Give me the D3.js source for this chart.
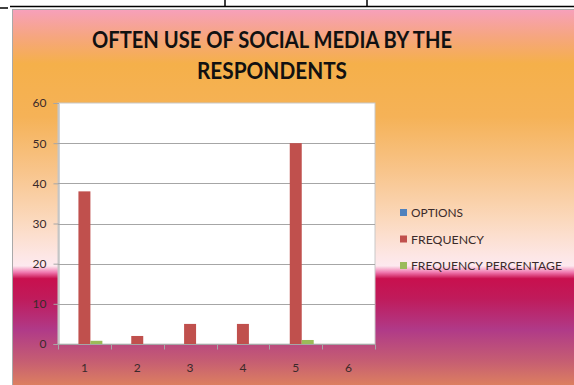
<!DOCTYPE html>
<html>
<head>
<meta charset="utf-8">
<script src="https://cdn.jsdelivr.net/npm/d3@7"></script>
<style>
  body { margin: 0; background: #fff; }
  svg { display: block; }
  text { font-family: Lato, "Open Sans", sans-serif; }
</style>
</head>
<body>
<svg id="chart" width="574" height="385"></svg>
<script>
// data
const categories = ["1", "2", "3", "4", "5", "6"];
const seriesNames = ["OPTIONS", "FREQUENCY", "FREQUENCY PERCENTAGE"];
const options = [0, 0, 0, 0, 0, 0];
const frequency = [38, 2, 5, 5, 50, 0];
const frequencyPct = [0.8, 0, 0, 0, 1, 0];
const yTicks = [0, 10, 20, 30, 40, 50, 60];
const titleLines = ["OFTEN USE OF SOCIAL MEDIA BY THE", "RESPONDENTS"];

const colors = ["#4f81bd", "#c0504d", "#9bbb59"];
const series = [options, frequency, frequencyPct];

const svg = d3.select("#chart");

// background gradient of the chart box
const defs = svg.append("defs");
const grad = defs.append("linearGradient")
    .attr("id", "bg")
    .attr("x1", 0).attr("y1", 0).attr("x2", 0).attr("y2", 1);
// offsets relative to the box (y 9 .. 385)
const stops = [
    [9, "#f7a0bb"], [35, "#f6a67e"], [60, "#f5b04a"], [110, "#f5b257"],
    [160, "#f8c48a"], [205, "#fbd8bb"], [240, "#fde6e4"], [250, "#fde9ef"],
    [256, "#f07ab0"], [262, "#c8104e"], [280, "#c01a5a"], [310, "#b03a88"],
    [340, "#c65e72"], [362, "#dc7f60"], [385, "#eea24e"]
];
stops.forEach(([y, c]) => {
    grad.append("stop").attr("offset", (y - 9) / (385 - 9)).attr("stop-color", c);
});

// table lines above the chart
svg.append("line").attr("x1", 10).attr("x2", 574).attr("y1", 6.5).attr("y2", 6.5)
    .attr("stroke", "#000").attr("stroke-width", 1.5);
svg.append("line").attr("x1", 0).attr("x2", 8).attr("y1", 8).attr("y2", 8)
    .attr("stroke", "#000").attr("stroke-width", 1.5);
[225, 367].forEach(x => {
    svg.append("line").attr("x1", x).attr("x2", x).attr("y1", 0).attr("y2", 6)
        .attr("stroke", "#000").attr("stroke-width", 1.5);
});

svg.append("rect")
    .attr("x", 12.5).attr("y", 9.5).attr("width", 580).attr("height", 400)
    .attr("fill", "url(#bg)")
    .attr("stroke", "#a9a9a9").attr("stroke-width", 1);

// title
const title = svg.append("g");
title.selectAll("text")
    .data(titleLines)
    .join("text")
    .attr("x", 272)
    .attr("y", (d, i) => 48 + i * 31)
    .attr("text-anchor", "middle")
    .attr("font-size", 22.5)
    .attr("font-weight", "bold")
    .attr("fill", "#111")
    .attr("textLength", (d, i) => i === 0 ? 360 : 150)
    .attr("lengthAdjust", "spacingAndGlyphs")
    .text(d => d);

// plot area
const plot = { left: 58, right: 375, top: 103, bottom: 344 };

const x = d3.scaleBand()
    .domain(categories)
    .range([plot.left, plot.right])
    .paddingInner(0.32)
    .paddingOuter(0.16);

const xSub = d3.scaleBand()
    .domain(d3.range(series.length))
    .range([0, x.bandwidth()]);

const y = d3.scaleLinear()
    .domain([0, 60])
    .range([plot.bottom, plot.top]);

svg.append("rect")
    .attr("x", plot.left).attr("y", plot.top)
    .attr("width", plot.right - plot.left).attr("height", plot.bottom - plot.top)
    .attr("fill", "#fff")
    .attr("stroke", "#c8c8c8");

// gridlines
svg.append("g")
    .selectAll("line")
    .data(yTicks.filter(d => d > 0 && d < 60))
    .join("line")
    .attr("x1", plot.left).attr("x2", plot.right)
    .attr("y1", d => Math.round(y(d)) + 0.5).attr("y2", d => Math.round(y(d)) + 0.5)
    .attr("stroke", "#a6a6a6");

// y axis
const yAxis = svg.append("g")
    .attr("transform", `translate(${plot.left + 0.5},0)`)
    .call(d3.axisLeft(y).tickValues(yTicks).tickSize(5).tickPadding(7));
yAxis.select(".domain").attr("stroke", "#a6a6a6");
yAxis.selectAll(".tick line").attr("stroke", "#a6a6a6");
yAxis.selectAll(".tick text")
    .attr("font-family", "Lato, sans-serif")
    .attr("font-size", 12)
    .attr("fill", "#3a2a2a");

// bars
const groups = svg.append("g")
    .selectAll("g")
    .data(series)
    .join("g")
    .attr("fill", (d, i) => colors[i]);

groups.each(function (vals, si) {
    d3.select(this).selectAll("rect")
        .data(vals.map((v, ci) => ({ v, c: categories[ci] })))
        .join("rect")
        .attr("x", d => x(d.c) + xSub(si))
        .attr("width", xSub.bandwidth())
        .attr("y", d => y(d.v))
        .attr("height", d => y(0) - y(d.v));
});

// x axis
const step = x.step();
const xAxis = svg.append("g")
    .attr("transform", `translate(0,${plot.bottom + 0.5})`);
xAxis.append("line")
    .attr("x1", plot.left).attr("x2", plot.right)
    .attr("stroke", "#a6a6a6");
xAxis.selectAll("line.tk")
    .data(d3.range(categories.length + 1))
    .join("line")
    .attr("class", "tk")
    .attr("x1", i => Math.round(plot.left + i * step) + 0.5)
    .attr("x2", i => Math.round(plot.left + i * step) + 0.5)
    .attr("y1", 0).attr("y2", 5)
    .attr("stroke", "#a6a6a6");
xAxis.selectAll("text")
    .data(categories)
    .join("text")
    .attr("x", d => x(d) + x.bandwidth() / 2)
    .attr("y", 27)
    .attr("text-anchor", "middle")
    .attr("font-size", 12)
    .attr("fill", "#3a2a2a")
    .text(d => d);

// legend
const legend = svg.append("g")
    .selectAll("g")
    .data(seriesNames)
    .join("g")
    .attr("transform", (d, i) => `translate(400,${213 + i * 26.5})`);
legend.append("rect")
    .attr("x", 0).attr("y", -4)
    .attr("width", 7).attr("height", 7)
    .attr("fill", (d, i) => colors[i]);
legend.append("text")
    .attr("x", 11).attr("y", 4)
    .attr("font-size", 11.5)
    .attr("fill", "#3a2a2a")
    .attr("textLength", (d, i) => [52, 73, 151][i])
    .attr("lengthAdjust", "spacingAndGlyphs")
    .text(d => d);
</script>
</body>
</html>
